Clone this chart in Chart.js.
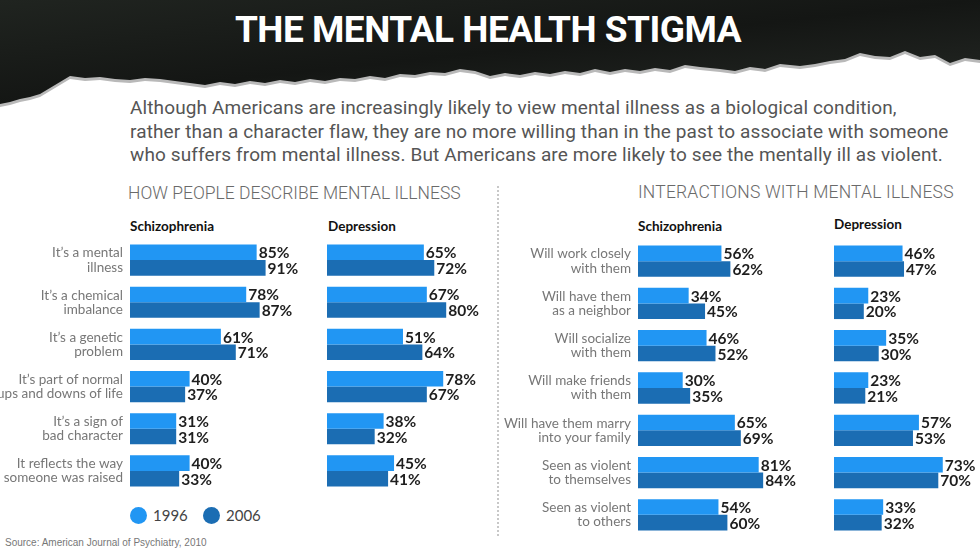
<!DOCTYPE html>
<html>
<head>
<meta charset="utf-8">
<script src="https://cdn.jsdelivr.net/npm/chart.js@4/dist/chart.umd.min.js"></script>
<style>
  html, body { margin: 0; padding: 0; }
  body { width: 980px; height: 551px; position: relative; overflow: hidden; background: #fff; font-family: Lato, sans-serif; }
  .abs { position: absolute; }
  #title { left: 0; width: 976px; top: 8px; text-align: center; color: #fff; font: bold 37px Roboto, sans-serif; letter-spacing: -0.5px; }
  #intro { left: 130px; top: 96px; color: #555; font: 19px Roboto, sans-serif; line-height: 23.5px; white-space: nowrap; letter-spacing: 0.12px; }
  .section { color: #6a6a6a; font: 300 17.5px Roboto, sans-serif; white-space: nowrap; }
  .sub { color: #111; font: bold 13.5px Lato, sans-serif; }
  .legend { color: #444; font: 15px Lato, sans-serif; display: flex; align-items: center; }
  .dot { width: 17px; height: 17px; border-radius: 50%; display: inline-block; margin-right: 6px; }
  #source { left: 5px; top: 537px; color: #777; font: 10px "Liberation Sans", sans-serif; }
  #divider { left: 497px; top: 186px; height: 350px; border-left: 2px dotted #c8c8c8; }
</style>
</head>
<body>
<svg class="abs" style="left:0;top:0" width="980" height="115" viewBox="0 0 980 115">
  <defs>
    <linearGradient id="g" x1="0" y1="0" x2="1" y2="1">
      <stop offset="0" stop-color="#202420"/>
      <stop offset="0.5" stop-color="#141614"/>
      <stop offset="1" stop-color="#262a26"/>
    </linearGradient>
  </defs>
  <polygon id="fringe" fill="#b9b9b9" transform="translate(0,3)" points=""/>
  <polygon id="paper" fill="url(#g)" points=""/>
</svg>
<div id="title" class="abs">THE MENTAL HEALTH STIGMA</div>
<div id="intro" class="abs">Although Americans are increasingly likely to view mental illness as a biological condition,<br>rather than a character flaw, they are no more willing than in the past to associate with someone<br>who suffers from mental illness. But Americans are more likely to see the mentally ill as violent.</div>
<div class="abs section" style="left:128px;top:183px">HOW PEOPLE DESCRIBE MENTAL ILLNESS</div>
<div class="abs section" style="left:638px;top:182px;letter-spacing:0.2px">INTERACTIONS WITH MENTAL ILLNESS</div>
<div id="divider" class="abs"></div>
<div class="abs sub" style="left:130px;top:218px">Schizophrenia</div>
<div class="abs sub" style="left:328px;top:218px">Depression</div>
<div class="abs sub" style="left:638px;top:218px">Schizophrenia</div>
<div class="abs sub" style="left:834px;top:216px">Depression</div>

<div class="abs" style="left:0;top:239px;width:324px;height:253px"><canvas id="descSchiz"></canvas></div>
<div class="abs" style="left:327px;top:239px;width:199px;height:253px"><canvas id="descDep"></canvas></div>
<div class="abs" style="left:488px;top:240px;width:344px;height:296px"><canvas id="interSchiz"></canvas></div>
<div class="abs" style="left:834px;top:240px;width:199px;height:296px"><canvas id="interDep"></canvas></div>

<div class="abs legend" style="left:130px;top:506px"><span class="dot" id="dot1"></span><span id="leg1"></span></div>
<div class="abs legend" style="left:203px;top:506px"><span class="dot" id="dot2"></span><span id="leg2"></span></div>
<div id="source" class="abs">Source: American Journal of Psychiatry, 2010</div>

<script>
// survey years
const years = ['1996', '2006'];

// how people describe mental illness
const describeLabels = [
  ['It\u2019s a mental', 'illness'],
  ['It\u2019s a chemical', 'imbalance'],
  ['It\u2019s a genetic', 'problem'],
  ['It\u2019s part of normal', 'ups and downs of life'],
  ['It\u2019s a sign of', 'bad character'],
  ['It reflects the way', 'someone was raised']
];
const describeSchiz1996 = [85, 78, 61, 40, 31, 40];
const describeSchiz2006 = [91, 87, 71, 37, 31, 33];
const describeDep1996 = [65, 67, 51, 78, 38, 45];
const describeDep2006 = [72, 80, 64, 67, 32, 41];

// interactions with mental illness
const interactLabels = [
  ['Will work closely', 'with them'],
  ['Will have them', 'as a neighbor'],
  ['Will socialize', 'with them'],
  ['Will make friends', 'with them'],
  ['Will have them marry', 'into your family'],
  ['Seen as violent', 'to themselves'],
  ['Seen as violent', 'to others']
];
const interactSchiz1996 = [56, 34, 46, 30, 65, 81, 54];
const interactSchiz2006 = [62, 45, 52, 35, 69, 84, 60];
const interactDep1996 = [46, 23, 35, 23, 57, 73, 33];
const interactDep2006 = [47, 20, 30, 21, 53, 70, 32];

const light = '#2196f3';
const dark = '#1b6db3';

// torn paper header (decoration only)
const edge = [[980,60],[965,58],[950,63],[935,55],[920,57],[905,51],[890,57],[875,56],[860,53],[845,59],[830,61],[815,64],[800,66],[780,64],[765,69],[750,67],[735,71],[720,69],[700,67],[685,65],[670,70],[655,68],[640,71],[625,69],[610,72],[595,69],[580,73],[565,71],[550,74],[535,72],[520,75],[505,73],[490,76],[475,71],[460,69],[445,73],[430,72],[415,75],[400,74],[385,78],[370,76],[355,79],[340,78],[325,81],[310,79],[295,82],[280,80],[265,83],[250,81],[235,84],[220,82],[205,85],[190,83],[175,81],[160,79],[145,78],[130,80],[115,79],[100,77],[85,78],[70,76],[60,82],[50,88],[40,94],[30,97],[20,99],[10,102],[0,104]];
const pts = '0,0 980,0 ' + edge.map(p => p.join(',')).join(' ');
document.getElementById('paper').setAttribute('points', pts);
document.getElementById('fringe').setAttribute('points', pts);

document.getElementById('dot1').style.background = light;
document.getElementById('dot2').style.background = dark;
document.getElementById('leg1').textContent = years[0];
document.getElementById('leg2').textContent = years[1];

const valueLabels = {
  id: 'valueLabels',
  afterDatasetsDraw(chart) {
    const ctx = chart.ctx;
    ctx.save();
    ctx.font = 'bold 15.5px Lato';
    ctx.fillStyle = '#1e1e1e';
    ctx.textBaseline = 'middle';
    chart.data.datasets.forEach((ds, i) => {
      chart.getDatasetMeta(i).data.forEach((bar, j) => {
        ctx.fillText(ds.data[j] + '%', bar.x + 2, bar.y + 1);
      });
    });
    ctx.restore();
  }
};

function makeChart(id, labels, a, b, axisWidth, padRight) {
  new Chart(document.getElementById(id), {
    type: 'bar',
    data: {
      labels: labels,
      datasets: [
        { label: years[0], data: a, backgroundColor: light },
        { label: years[1], data: b, backgroundColor: dark }
      ]
    },
    options: {
      indexAxis: 'y',
      responsive: true,
      maintainAspectRatio: false,
      animation: false,
      categoryPercentage: 0.74,
      barPercentage: 1.0,
      layout: { padding: { left: 0, right: padRight, top: 0, bottom: 0 } },
      plugins: { legend: { display: false }, tooltip: { enabled: false } },
      scales: {
        x: { display: false, min: 0, max: 100 },
        y: {
          display: axisWidth > 0,
          grid: { display: false, drawTicks: false },
          border: { display: false },
          ticks: {
            padding: 7,
            color: '#777',
            font: { family: 'Lato', size: 13.5, lineHeight: 1.05 }
          },
          afterFit(scale) {
            scale.width = axisWidth;
            scale.paddingTop = 0;
            scale.paddingBottom = 0;
          }
        }
      }
    },
    plugins: [valueLabels]
  });
}

makeChart('descSchiz', describeLabels, describeSchiz1996, describeSchiz2006, 130, 45);
makeChart('descDep', describeLabels, describeDep1996, describeDep2006, 0, 50);
makeChart('interSchiz', interactLabels, interactSchiz1996, interactSchiz2006, 150, 45);
makeChart('interDep', interactLabels, interactDep1996, interactDep2006, 0, 50);
</script>
</body>
</html>
